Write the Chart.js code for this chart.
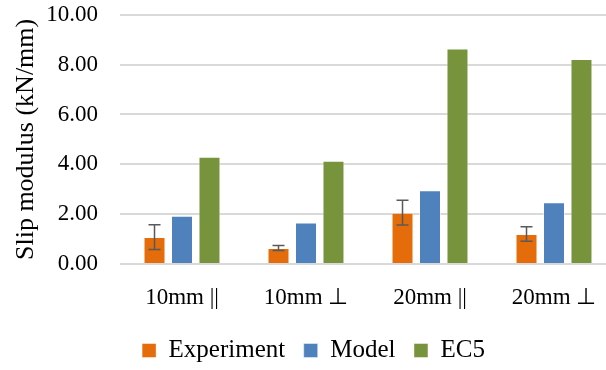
<!DOCTYPE html>
<html>
<head>
<meta charset="utf-8">
<script src="https://cdn.jsdelivr.net/npm/chart.js@4"></script>
<style>
  html, body { margin: 0; padding: 0; background: #fff; overflow: hidden; }
  #wrap { width: 620px; height: 370px; }
</style>
</head>
<body>
<div id="wrap"><canvas id="chart" width="620" height="370"></canvas></div>
<script>
const categories = ['10mm ||', '10mm \u22A5', '20mm ||', '20mm \u22A5'];
const experiment = [1.08, 0.64, 2.06, 1.20];
const experimentErr = [0.50, 0.10, 0.50, 0.29];
const model = [1.94, 1.67, 2.96, 2.48];
const ec5 = [4.30, 4.14, 8.65, 8.23];
const yTicks = [0, 2, 4, 6, 8, 10];

const SERIF = "'Liberation Serif', 'Times New Roman', serif";

// error bars on the Experiment series
const errorBars = {
  id: 'errorBars',
  afterDatasetsDraw(chart) {
    const meta = chart.getDatasetMeta(0);
    const y = chart.scales.y;
    const c = chart.ctx;
    c.save();
    c.strokeStyle = '#595959';
    c.lineWidth = 1.5;
    meta.data.forEach((bar, i) => {
      const hi = y.getPixelForValue(experiment[i] + experimentErr[i]);
      const lo = y.getPixelForValue(experiment[i] - experimentErr[i]);
      const x = bar.x;
      c.beginPath();
      c.moveTo(x, hi); c.lineTo(x, lo);
      c.moveTo(x - 6, hi); c.lineTo(x + 6, hi);
      c.moveTo(x - 6, lo); c.lineTo(x + 6, lo);
      c.stroke();
    });
    c.restore();
  }
};

const bar = (label, data, color) => ({
  label, data,
  backgroundColor: color,
  borderColor: 'rgba(255,255,255,0.45)',
  borderWidth: 1,
  barPercentage: 0.8,
  categoryPercentage: 0.665
});

new Chart(document.getElementById('chart'), {
  type: 'bar',
  data: {
    labels: categories,
    datasets: [
      bar('Experiment', experiment, '#E46C0A'),
      bar('Model', model, '#4F81BD'),
      bar('EC5', ec5, '#77933C')
    ]
  },
  options: {
    responsive: false,
    animation: false,
    layout: { padding: { top: 0, left: 11, right: 4, bottom: -3 } },
    plugins: {
      tooltip: { enabled: false },
      legend: {
        position: 'bottom',
        labels: {
          font: { family: SERIF, size: 25 },
          color: '#000',
          boxWidth: 14,
          boxHeight: 14,
          padding: 18.5
        }
      }
    },
    scales: {
      x: {
        grid: { display: false },
        border: { display: false },
        ticks: { color: '#000', font: { family: SERIF, size: 23 }, padding: 12 },
        afterFit(s) { s.height = 55.5; }
      },
      y: {
        min: 0, max: 10,
        afterBuildTicks(s) { s.ticks = yTicks.map(v => ({ value: v })); },
        // invisible tick marks keep the labels away from the plot
        grid: { color: '#d9d9d9', lineWidth: 2, drawTicks: true, tickLength: 21, tickColor: 'rgba(0,0,0,0)' },
        border: { display: false },
        ticks: {
          color: '#000',
          font: { family: SERIF, size: 23 },
          padding: 1,
          callback: v => Number(v).toFixed(2)
        },
        title: {
          display: true,
          text: 'Slip modulus (kN/mm)',
          color: '#000',
          font: { family: SERIF, size: 26 },
          padding: 0
        },
        afterFit(s) { s.width = 109; }
      }
    }
  },
  plugins: [errorBars]
});
</script>
</body>
</html>
